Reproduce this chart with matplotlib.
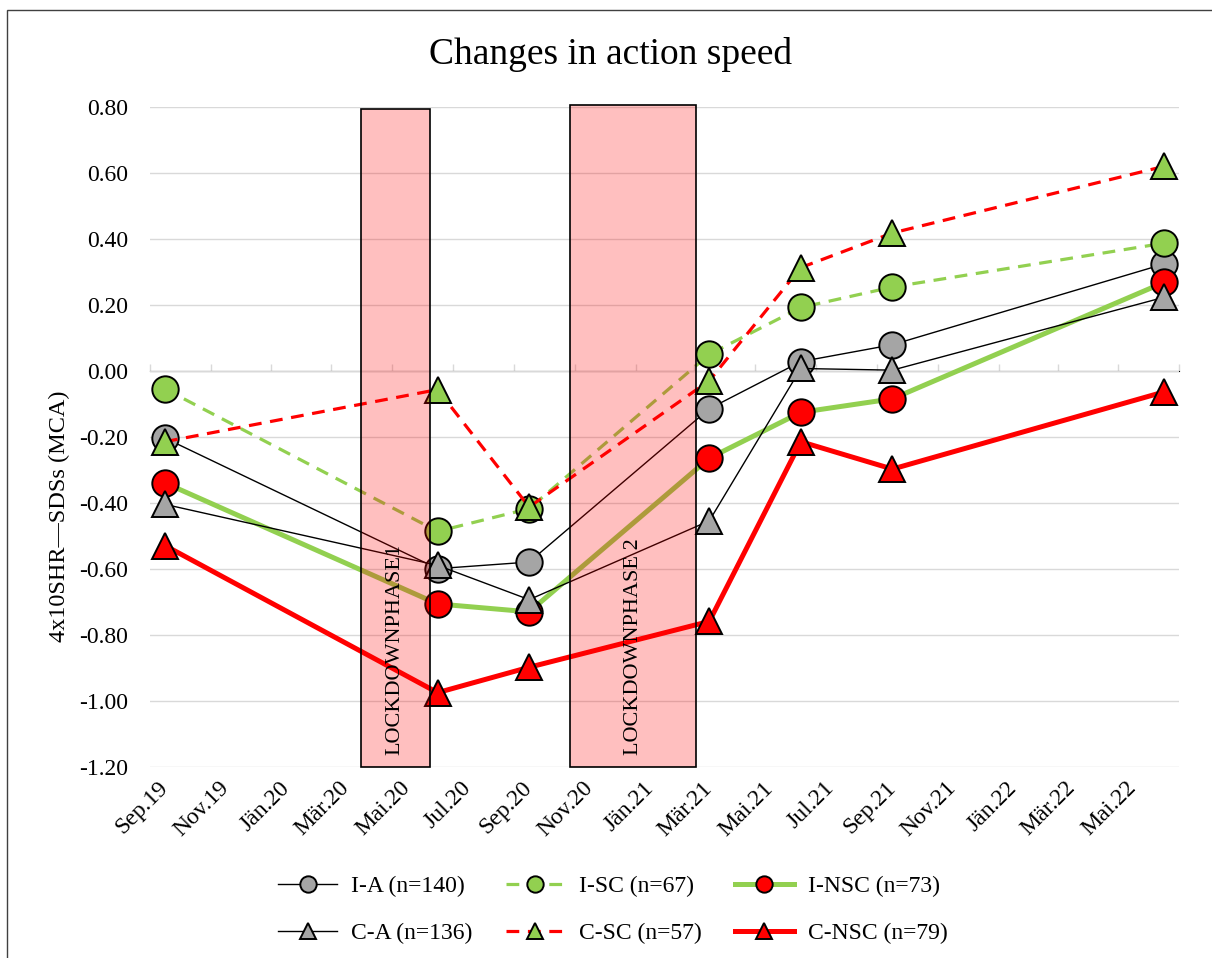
import matplotlib
matplotlib.use("Agg")
import matplotlib.pyplot as plt
import matplotlib.dates as mdates
from matplotlib.patches import Rectangle
import pandas as pd

plt.rcParams['font.family'] = ['Liberation Serif', 'DejaVu Serif']

# Data
dates = ["2019-09", "2020-06", "2020-09", "2021-03", "2021-06", "2021-09", "2022-06"]
i_a = [-0.204, -0.600, -0.580, -0.115, 0.028, 0.079, 0.324]
i_sc = [-0.055, -0.487, -0.418, 0.050, 0.192, 0.254, 0.387]
i_nsc = [-0.340, -0.707, -0.731, -0.265, -0.126, -0.085, 0.268]
c_a = [-0.405, -0.590, -0.694, -0.455, 0.007, 0.002, 0.223]
c_sc = [-0.215, -0.057, -0.413, -0.030, 0.313, 0.418, 0.620]
c_nsc = [-0.530, -0.976, -0.899, -0.760, -0.215, -0.298, -0.064]

tick_labels = ["Sep.19", "Nov.19", "Jän.20", "Mär.20", "Mai.20", "Jul.20", "Sep.20",
               "Nov.20", "Jän.21", "Mär.21", "Mai.21", "Jul.21", "Sep.21", "Nov.21",
               "Jän.22", "Mär.22", "Mai.22"]

lockdowns = [("LOCKDOWNPHASE1", "2020-03-31", "2020-06-08", 0.795),
             ("LOCKDOWNPHASE 2", "2020-10-27", "2021-03-03", 0.805)]

GREY = "#A5A5A5"
GREEN = "#92D050"
RED = "#FF0000"

# Excel date axis (month base unit) puts points in the middle of the month
x = pd.to_datetime(dates) + pd.Timedelta(days=15)

fig = plt.figure(figsize=(12.12, 9.58), dpi=100)
ax = fig.add_axes([150 / 1212, 1 - 767 / 958, (1179 - 150) / 1212, (767 - 107) / 958])

ms = 19
series = [
    ("I-A (n=140)", i_a, dict(color="black", lw=1.0, ls="-", marker="o", mfc=GREY)),
    ("I-SC (n=67)", i_sc, dict(color=GREEN, lw=2.3, ls=(0, (4, 2.7)), marker="o", mfc=GREEN)),
    ("I-NSC (n=73)", i_nsc, dict(color=GREEN, lw=3.6, ls="-", marker="o", mfc=RED)),
    ("C-A (n=136)", c_a, dict(color="black", lw=1.0, ls="-", marker="^", mfc=GREY)),
    ("C-SC (n=57)", c_sc, dict(color=RED, lw=2.3, ls=(0, (4, 2.7)), marker="^", mfc=GREEN)),
    ("C-NSC (n=79)", c_nsc, dict(color=RED, lw=3.6, ls="-", marker="^", mfc=RED)),
]
handles = {}
for i, (name, vals, st) in enumerate(series):
    h, = ax.plot(x, vals, ms=ms, mec="black", mew=1.4, zorder=3 + i, label=name, **st)
    handles[name] = h

# lockdown phases (semi-transparent boxes on top of the lines)
for text, start, end, top in lockdowns:
    s = mdates.date2num(pd.Timestamp(start))
    e = mdates.date2num(pd.Timestamp(end))
    ax.add_patch(Rectangle((s, -1.2), e - s, top + 1.2, facecolor=(1, 0, 0, 0.25),
                           edgecolor="black", lw=1.2, zorder=20, clip_on=False))
    ax.text((s + e) / 2, -1.165, text, rotation=90, ha="center", va="bottom",
            fontsize=16, zorder=21)

ax.set_ylim(-1.2015, 0.8)
ax.set_yticks([-1.2 + 0.2 * k for k in range(11)])
ax.yaxis.set_major_formatter(matplotlib.ticker.FormatStrFormatter("%.2f"))
ax.set_xlim(pd.Timestamp("2019-09-01"), pd.Timestamp("2022-07-01"))
ax.grid(axis="y", color="#D9D9D9", lw=1.0, zorder=0)
ax.set_axisbelow(True)
for sp in ax.spines.values():
    sp.set_visible(False)

# labels in the middle of each 2-month span
label_pos = pd.date_range("2019-09-01", periods=len(tick_labels), freq="2MS") + pd.Timedelta(days=15)
ax.set_xticks(label_pos)
ax.set_xticklabels(tick_labels, rotation=45, ha="right", va="center", rotation_mode="anchor")
ax.tick_params(axis="x", length=0, pad=13, labelsize=17)
ax.tick_params(axis="y", length=0, pad=16, labelsize=17)

# horizontal axis line with tick marks at y = 0
sec = ax.secondary_xaxis(0.6)
sec.set_xticks(pd.date_range("2019-09-01", "2022-07-01", freq="2MS"))
sec.set_xticklabels([])
sec.tick_params(axis="x", direction="out", length=5, width=1.0, color="#D9D9D9")
sec.spines["bottom"].set_color("#D9D9D9")
sec.spines["bottom"].set_linewidth(1.0)

ax.set_ylabel("4x10SHR\u2014SDSs (MCA)", fontsize=17.5)
ax.yaxis.set_label_coords((70 - 150) / 1029, 0.38)
fig.text(0.504, 1 - 54 / 958, "Changes in action speed", fontsize=27, ha="center", va="center")

order = ["I-A (n=140)", "C-A (n=136)", "I-SC (n=67)", "C-SC (n=57)", "I-NSC (n=73)", "C-NSC (n=79)"]
fig.legend([handles[n] for n in order], order, ncol=3, loc="center",
           bbox_to_anchor=(613 / 1212, 1 - 910 / 958), frameon=False, fontsize=17,
           markerscale=0.62, handlelength=2.5, handletextpad=0.6, columnspacing=1.4,
           labelspacing=1.1)

# chart area border (only left and top edges inside the image)
fig.add_artist(Rectangle((7 / 1212, -0.1), 1.2, 1.1 - 10 / 958, transform=fig.transFigure,
                         fill=False, edgecolor="#404040", lw=1.0))

fig.savefig("out.png", dpi=100)
